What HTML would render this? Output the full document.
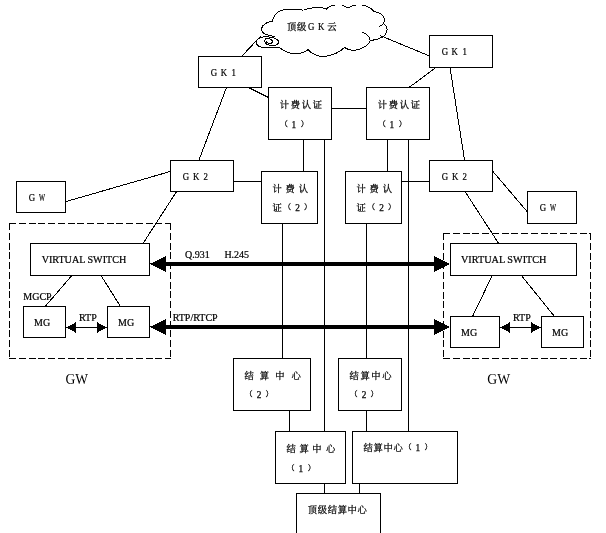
<!DOCTYPE html>
<html lang="zh"><head><meta charset="utf-8"><title>GK / GW network</title>
<style>
html,body{margin:0;padding:0;background:#fff;}
body{width:606px;height:533px;overflow:hidden;}
svg{display:block;}
.ln{stroke:#000;stroke-width:1;fill:none;shape-rendering:crispEdges;}
.bx{stroke:#000;stroke-width:1;fill:#fff;shape-rendering:crispEdges;}
.ds{stroke:#000;stroke-width:1;fill:none;stroke-dasharray:7.05 2.7;shape-rendering:crispEdges;}
.cl{stroke:#000;stroke-width:1;fill:none;shape-rendering:crispEdges;}
.ar{fill:#000;stroke:none;shape-rendering:crispEdges;}
text{fill:#000;}
.s{font-family:"Liberation Serif","Noto Serif CJK SC",serif;font-size:10px;stroke:#000;stroke-width:.22;}
.g{font-family:"Liberation Serif","Noto Serif CJK SC",serif;font-size:10px;stroke:#000;stroke-width:.22;}
.c{font-family:"Liberation Serif","Noto Serif CJK SC",serif;font-size:9.3px;stroke:#000;stroke-width:.25;}
.p{font-size:7.6px;}
.big{font-family:"Liberation Serif",serif;font-size:15px;}
</style></head><body>
<svg width="606" height="533" viewBox="0 0 606 533">
<rect x="0" y="0" width="606" height="533" fill="#fff"/>
<line class="ds" x1="9.0" y1="223.5" x2="171.0" y2="223.5"/>
<line class="ds" x1="9.5" y1="223.0" x2="9.5" y2="359.0"/>
<line class="ds" x1="170.5" y1="223.0" x2="170.5" y2="359.0"/>
<line class="ds" x1="9.0" y1="358.5" x2="171.0" y2="358.5"/>
<line class="ds" x1="443.0" y1="233.5" x2="591.0" y2="233.5"/>
<line class="ds" x1="443.5" y1="233.0" x2="443.5" y2="359.0"/>
<line class="ds" x1="590.5" y1="233.0" x2="590.5" y2="359.0"/>
<line class="ds" x1="443.0" y1="358.5" x2="591.0" y2="358.5"/>
<line class="ln" x1="241.5" y1="56.5" x2="260.7" y2="36.1"/>
<line class="ln" x1="248.5" y1="87.5" x2="268.5" y2="97.5"/>
<line class="ln" x1="226.5" y1="87.5" x2="198.8" y2="160.5"/>
<line class="ln" x1="383" y1="36.7" x2="429.5" y2="56"/>
<line class="ln" x1="435.8" y1="67.5" x2="409" y2="87.5"/>
<line class="ln" x1="450" y1="67.5" x2="464.6" y2="160.5"/>
<line class="ln" x1="331.5" y1="108.5" x2="366.5" y2="108.5"/>
<line class="ln" x1="303.5" y1="139.5" x2="303.5" y2="171.5"/>
<line class="ln" x1="324.5" y1="139.5" x2="324.5" y2="431.5"/>
<line class="ln" x1="387.5" y1="139.5" x2="387.5" y2="171.5"/>
<line class="ln" x1="408.5" y1="139.5" x2="408.5" y2="431.5"/>
<line class="ln" x1="65.5" y1="201.7" x2="170.5" y2="171.4"/>
<line class="ln" x1="176.6" y1="191.5" x2="143" y2="243.5"/>
<line class="ln" x1="233.5" y1="181.5" x2="261.5" y2="181.5"/>
<line class="ln" x1="401.5" y1="181.5" x2="429.5" y2="181.5"/>
<line class="ln" x1="492.5" y1="171" x2="527.5" y2="212"/>
<line class="ln" x1="465" y1="191.5" x2="498.7" y2="243.5"/>
<line class="ln" x1="282.5" y1="223.5" x2="282.5" y2="358.5"/>
<line class="ln" x1="366.5" y1="223.5" x2="366.5" y2="358.5"/>
<line class="ln" x1="289.5" y1="410.5" x2="289.5" y2="431.5"/>
<line class="ln" x1="366.5" y1="410.5" x2="366.5" y2="431.5"/>
<line class="ln" x1="324.5" y1="483.5" x2="324.5" y2="493.5"/>
<line class="ln" x1="359.5" y1="483.5" x2="359.5" y2="493.5"/>
<line class="ln" x1="71.9" y1="275.5" x2="45.1" y2="306.5"/>
<line class="ln" x1="101" y1="275.5" x2="120.5" y2="306.5"/>
<line class="ln" x1="492.2" y1="275.5" x2="472.5" y2="316.5"/>
<line class="ln" x1="521.4" y1="275.5" x2="554.5" y2="316.5"/>
<line class="ln" x1="70" y1="327.5" x2="103" y2="327.5"/>
<line class="ln" x1="504" y1="327.5" x2="537" y2="327.5"/>
<rect class="bx" x="198.5" y="56.5" width="63.0" height="31.0"/>
<rect class="bx" x="268.5" y="87.5" width="63.0" height="52.0"/>
<rect class="bx" x="366.5" y="87.5" width="63.0" height="52.0"/>
<rect class="bx" x="429.5" y="35.5" width="63.0" height="32.0"/>
<rect class="bx" x="16.5" y="181.5" width="49.0" height="31.0"/>
<rect class="bx" x="170.5" y="160.5" width="63.0" height="31.0"/>
<rect class="bx" x="261.5" y="171.5" width="56.0" height="52.0"/>
<rect class="bx" x="345.5" y="171.5" width="56.0" height="52.0"/>
<rect class="bx" x="429.5" y="160.5" width="63.0" height="31.0"/>
<rect class="bx" x="527.5" y="191.5" width="49.0" height="32.0"/>
<rect class="bx" x="30.5" y="243.5" width="119.0" height="32.0"/>
<rect class="bx" x="23.5" y="306.5" width="42.0" height="31.0"/>
<rect class="bx" x="107.5" y="306.5" width="42.0" height="31.0"/>
<rect class="bx" x="450.5" y="243.5" width="126.0" height="32.0"/>
<rect class="bx" x="450.5" y="316.5" width="49.0" height="31.0"/>
<rect class="bx" x="541.5" y="316.5" width="42.0" height="31.0"/>
<rect class="bx" x="233.5" y="358.5" width="77.0" height="52.0"/>
<rect class="bx" x="338.5" y="358.5" width="63.0" height="52.0"/>
<rect class="bx" x="275.5" y="431.5" width="70.0" height="52.0"/>
<rect class="bx" x="352.5" y="431.5" width="105.0" height="52.0"/>
<rect class="bx" x="296.5" y="493.5" width="84.0" height="47.0"/>
<path class="cl" d="M303.5 10.4 C298 8.5 283 8.5 278 12 C274.5 14.5 273 18 272.3 21.4 C268 21.4 262.5 24.5 261.5 28.5 C260.8 32 265 34.5 270 35.8 L274.6 36.4 M279.7 47.8 C283 50.5 289 53.7 295.4 53.7 C301 53.7 305.5 52 308 49.7 C311 53 315 55 320 56.4 C327 57 338 54 344.8 47.4 C347 49.5 351 50.2 354.7 50.2 C361 50 369 45 370.2 40.7 C375 40 380 38.5 383 37 C386 34.5 388 30 386.8 27.5 C386 25.5 385 24.5 383.5 23.7 C385.5 20 384.5 15.5 380 13.3 C378 12.2 376 11.8 373.7 11.5 C372 8.5 367 5.5 362.2 5.2 M355.8 5.2 C352.5 5.6 350 6.5 347.7 8 C346 6.5 344 5.6 342 5.2 M335 5.2 C331 5.6 328 7.2 326.4 9 C322 7 310 7 303.5 10.4 M370.2 40.7 C370 37 366.5 33.5 362.2 32.1 M383.5 23.7 L379.5 26.6 M383 37 L380 35.2"/>
<path class="cl" d="M279.7 47.8 C275 47.6 268 47.8 262.4 47.4 C259 47 257 45.5 256.3 43 C255.8 40.5 258.5 38.5 261 37.5 C263 36.8 265 36.6 266.5 36.7 C270 37 275 38 277.2 39.6 C279.3 41 279.3 43 276.4 44.9 C274.5 45.8 270 45.9 267.3 44.5 C264.8 43.3 263.8 41 265.3 39.1 C266 38.2 267.5 38.2 268.5 38.6 C270.5 39.2 272.5 40.5 272.5 41.8 C272.5 43 270.5 43.6 269 43.3 C267.5 43 266.3 42.3 266.1 41.6"/>
<rect class="ar" x="160" y="262" width="280" height="4"/>
<polygon class="ar" points="149.5,264 166,255.8 166,272.2"/>
<polygon class="ar" points="450.5,264 434,255.8 434,272.2"/>
<rect class="ar" x="160" y="325" width="280" height="4"/>
<polygon class="ar" points="149.5,327 166,318.8 166,335.2"/>
<polygon class="ar" points="450.5,327 434,318.8 434,335.2"/>
<polygon class="ar" points="66.0,327.5 76.0,322.2 76.0,332.8"/>
<polygon class="ar" points="107.0,327.5 97.0,322.2 97.0,332.8"/>
<polygon class="ar" points="500.0,327.5 510.0,322.2 510.0,332.8"/>
<polygon class="ar" points="541.0,327.5 531.0,322.2 531.0,332.8"/>
<g style="opacity:.999">
<text class="c" x="287 296.9" y="30.2">顶级</text>
<text class="g" transform="scale(0.88 1)" x="349.89 361.25" y="30">GK</text>
<text class="c" x="327.2" y="30.2">云</text>
<text class="g" transform="scale(0.88 1)" x="239.43 250.91 263.07" y="76">GK1</text>
<text class="g" transform="scale(0.88 1)" x="501.93 513.18 525.57" y="55">GK1</text>
<text class="g" transform="scale(0.88 1)" x="207.61 219.2 231.36" y="180">GK2</text>
<text class="g" transform="scale(0.88 1)" x="501.93 513.52 525.68" y="180">GK2</text>
<text class="g" transform="scale(0.88 1)" x="32.61" y="200.8">G</text>
<text class="g" transform="translate(39 200.8) scale(.64 1)">W</text>
<text class="g" transform="scale(0.88 1)" x="613.3" y="210.8">G</text>
<text class="g" transform="translate(550 210.8) scale(.64 1)">W</text>
<text class="c" x="279.7 290.7 301.7 312.7" y="108.1">计费认证</text>
<text class="c"><tspan class="p" x="280.2" y="126.6">（</tspan><tspan x="291.6" y="127.6">1</tspan><tspan class="p" x="300.8" y="126.6">）</tspan></text>
<text class="c" x="377.7 388.7 399.7 410.7" y="108.1">计费认证</text>
<text class="c"><tspan class="p" x="378.2" y="126.6">（</tspan><tspan x="389.6" y="127.6">1</tspan><tspan class="p" x="398.8" y="126.6">）</tspan></text>
<text class="c" x="272.5 285.6 298.7" y="192.3">计费认</text>
<text class="c"><tspan x="272.5" y="211.3">证</tspan><tspan class="p" x="283.4" y="210.3">（</tspan><tspan x="295.2" y="211.3">2</tspan><tspan class="p" x="304.0" y="210.3">）</tspan></text>
<text class="c" x="356.5 369.6 382.7" y="192.3">计费认</text>
<text class="c"><tspan x="356.5" y="211.3">证</tspan><tspan class="p" x="367.4" y="210.3">（</tspan><tspan x="379.2" y="211.3">2</tspan><tspan class="p" x="388.0" y="210.3">）</tspan></text>
<text class="c" x="244.5 259.7 275.3 291.4" y="379.1">结算中心</text>
<text class="c"><tspan class="p" x="244.9" y="397.3">（</tspan><tspan x="256.7" y="398.3">2</tspan><tspan class="p" x="265.5" y="397.3">）</tspan></text>
<text class="c" x="349.5 360.4 371.3 382.2" y="379.1">结算中心</text>
<text class="c"><tspan class="p" x="349.9" y="397.3">（</tspan><tspan x="361.7" y="398.3">2</tspan><tspan class="p" x="370.5" y="397.3">）</tspan></text>
<text class="c" x="286.5 299.4 312.3 326.1" y="452.1">结算中心</text>
<text class="c"><tspan class="p" x="287.1" y="470.6">（</tspan><tspan x="298.5" y="471.6">1</tspan><tspan class="p" x="307.7" y="470.6">）</tspan></text>
<text class="c" x="363.6 373.55 383.5 393.45" y="450.8">结算中心</text>
<text class="c"><tspan class="p" x="404.0" y="449.7">（</tspan><tspan x="415.4" y="450.7">1</tspan><tspan class="p" x="424.6" y="449.7">）</tspan></text>
<text class="c" x="307.8 317.75 327.7 337.65 347.6 357.55" y="512.8">顶级结算中心</text>
<text class="s" x="41.7" y="263" textLength="84.5" lengthAdjust="spacingAndGlyphs">VIRTUAL SWITCH</text>
<text class="s" x="461" y="263" textLength="85.5" lengthAdjust="spacingAndGlyphs">VIRTUAL SWITCH</text>
<text class="s" x="34" y="326">MG</text>
<text class="s" x="118" y="326">MG</text>
<text class="s" x="461" y="335.8">MG</text>
<text class="s" x="552" y="335.8">MG</text>
<text class="s" x="79" y="321">RTP</text>
<text class="s" x="513" y="321">RTP</text>
<text class="s" x="23.3" y="300">MGCP</text>
<text class="s" x="172.7" y="321.2">RTP/RTCP</text>
<text class="s" x="185" y="257.9">Q.931</text>
<text class="s" x="224.4" y="257.9">H.245</text>
<text class="big" x="65.5" y="384" textLength="22.6" lengthAdjust="spacingAndGlyphs">GW</text>
<text class="big" x="487.3" y="384" textLength="22.8" lengthAdjust="spacingAndGlyphs">GW</text>
</g>
</svg></body></html>
